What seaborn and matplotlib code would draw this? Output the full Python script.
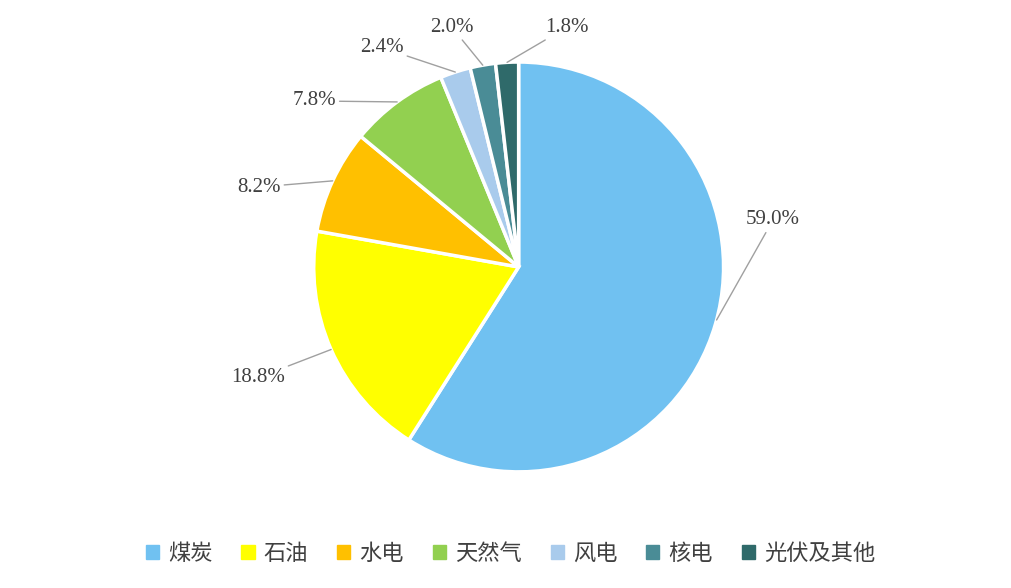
import numpy as np
import matplotlib
matplotlib.use("Agg")
import matplotlib.pyplot as plt
import seaborn as sns

sns.set_theme(style="white")
plt.rcParams['font.family'] = ['Noto Sans CJK SC', 'DejaVu Sans']

categories = ["煤炭", "石油", "水电", "天然气", "风电", "核电", "光伏及其他"]
shares = [59.0, 18.8, 8.2, 7.8, 2.4, 2.0, 1.8]
colors = ["#70C1F1", "#FFFF00", "#FFC000", "#92D050", "#A9CBEC", "#4A8C96", "#2F6A6A"]
# label positions in radius units (layout only)
label_pos = [(1.11, 0.23), (-1.14, -0.54), (-1.16, 0.39), (-0.89, 0.81),
             (-0.56, 1.07), (-0.22, 1.17), (0.13, 1.17)]

fig = plt.figure(figsize=(10.11, 5.88), dpi=100)
ax = fig.add_axes([0.513 - 0.697 * 588 / 1011 / 2, 0.546 - 0.697 / 2, 0.697 * 588 / 1011, 0.697])
wedges, _ = ax.pie(shares, colors=colors, startangle=90, counterclock=False,
                   wedgeprops=dict(edgecolor="white", linewidth=2.5))
ax.set_xlim(-1, 1)
ax.set_ylim(-1, 1)
ax.set_aspect("equal")

for w, s, (lx, ly) in zip(wedges, shares, label_pos):
    ang = np.deg2rad((w.theta1 + w.theta2) / 2)
    ex, ey = np.cos(ang), np.sin(ang)
    if s == 59.0:
        ex, ey = np.cos(np.deg2rad(-15)), np.sin(np.deg2rad(-15))
    ha = "left" if lx > 0 else "right"
    ax.annotate(f"{s:.1f}%", xy=(ex, ey), xytext=(lx, ly), ha=ha, va="center",
                fontsize=15, family="Liberation Serif", color="#404040",
                annotation_clip=False,
                arrowprops=dict(arrowstyle="-", color="#A0A0A0", lw=1,
                                shrinkA=0, shrinkB=0))

handles = [plt.Rectangle((0, 0), 1, 1, color=c) for c in colors]
fig.legend(handles, categories, loc="center", bbox_to_anchor=(0.505, 1 - 553 / 588),
           ncol=7, frameon=False, fontsize=16, handlelength=0.6, handleheight=0.6,
           columnspacing=1.3, handletextpad=0.4, labelcolor="#404040")

fig.savefig("out.png", dpi=100, facecolor="white")
